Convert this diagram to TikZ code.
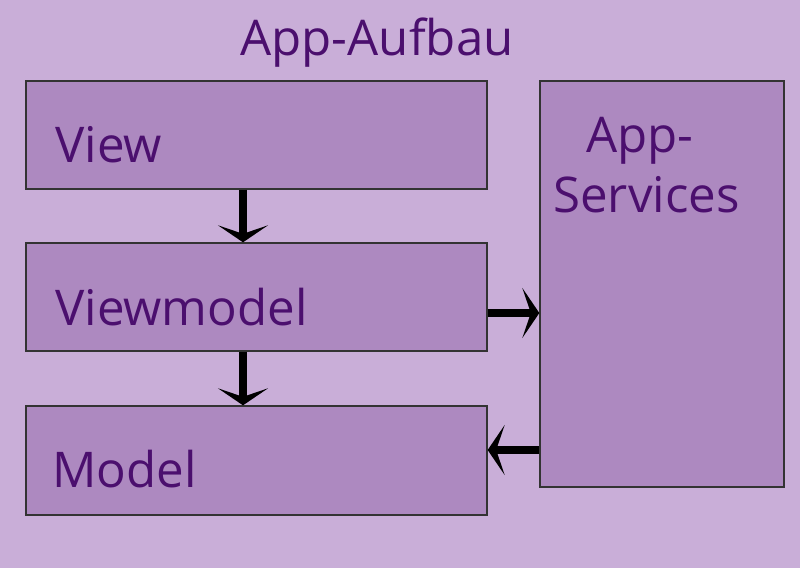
\documentclass[tikz,border=0pt]{standalone}
\usepackage{fontspec}
\setmainfont{Open Sans}
\usetikzlibrary{positioning,arrows.meta}

\definecolor{bgpurple}{HTML}{C9AED8}
\definecolor{boxpurple}{HTML}{AD89C0}
\definecolor{textpurple}{HTML}{4B0F6E}

\begin{document}
\begin{tikzpicture}[x=0.02cm, y=-0.02cm]
        \tikzstyle{layer}=[draw=black!80, line width=0.8pt, fill=boxpurple, inner sep=0pt]
        \tikzstyle{caption}=[text=textpurple, font=\fontsize{28}{33}\selectfont, anchor=base west, inner sep=0pt]
        \tikzstyle{bigarrow}=[line width=4.5pt, -{Stealth[length=0.34cm, width=1.0cm, inset=0.17cm]}]

        \fill[bgpurple] (0,0) rectangle (800,568);
        \useasboundingbox (0,0) rectangle (800,568);

        % Schichten
        \node[layer, minimum width=9.22cm, minimum height=2.16cm] (view)      at (256.5,135) {};
        \node[layer, minimum width=9.22cm, minimum height=2.16cm] (viewmodel) at (256.5,297) {};
        \node[layer, minimum width=9.22cm, minimum height=2.18cm] (model)     at (256.5,460.5) {};
        \node[layer, minimum width=4.88cm, minimum height=8.12cm] (services)  at (662,284) {};

        % Beschriftungen
        \node[text=textpurple, font=\fontsize{28}{33}\selectfont, anchor=base, inner sep=0pt] (title) at (377,55) {App-Aufbau};
        \node[caption] (viewtext)      at (55,162)  {View};
        \node[caption] (viewmodeltext) at (55,325)  {Viewmodel};
        \node[caption] (modeltext)     at (52,487)  {Model};
        \node[caption] (apptext)       at (586,152) {App-};
        \node[caption] (servicestext)  at (553,212) {Services};

        % Pfeile
        \draw[bigarrow] ([xshift=-0.27cm]view.south) -- ([xshift=-0.27cm]viewmodel.north);
        \draw[bigarrow] ([xshift=-0.27cm]viewmodel.south) -- ([xshift=-0.27cm]model.north);
        \draw[bigarrow] (viewmodel.east |- 0,313) -- (services.west |- 0,313);
        \draw[bigarrow] (services.west |- 0,450) -- (model.east |- 0,450);
    \end{tikzpicture}
\end{document}
